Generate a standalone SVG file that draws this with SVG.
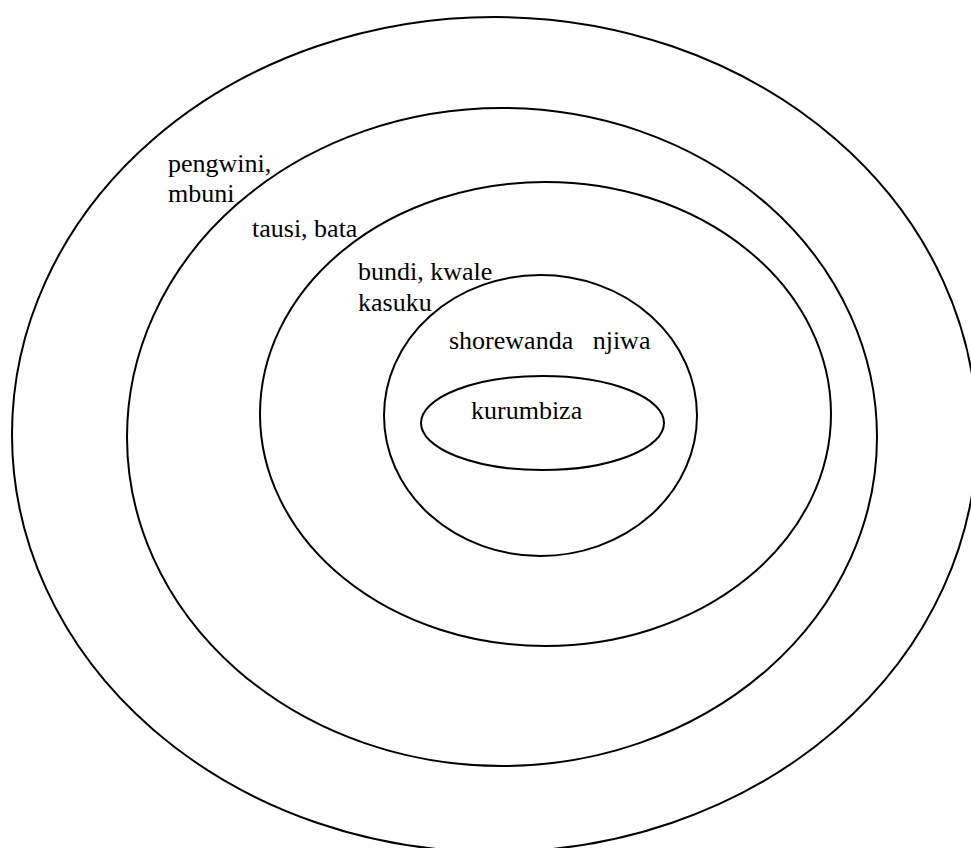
<svg xmlns="http://www.w3.org/2000/svg" width="971" height="848" viewBox="0 0 971 848">
<style>
.ring{fill:none;stroke:#000;stroke-width:2}
.t{font-family:'Liberation Serif','Times New Roman',Times,'DejaVu Serif',serif;font-size:26px;fill:#000}
</style>
<rect width="971" height="848" fill="#fff"/>
<g id="ring1"><ellipse class="ring" cx="494.5" cy="434.5" rx="482.5" ry="417.5"/><text class="t" font-family="Liberation Serif, DejaVu Serif, serif" x="168" y="172">pengwini,</text><text class="t" font-family="Liberation Serif, DejaVu Serif, serif" x="168" y="202">mbuni</text></g>
<g id="ring2"><ellipse class="ring" cx="502" cy="437" rx="375" ry="329"/><text class="t" font-family="Liberation Serif, DejaVu Serif, serif" x="252" y="237">tausi, bata</text></g>
<g id="ring3"><ellipse class="ring" cx="545.5" cy="414" rx="285.5" ry="232"/><text class="t" font-family="Liberation Serif, DejaVu Serif, serif" x="358" y="280">bundi, kwale</text><text class="t" font-family="Liberation Serif, DejaVu Serif, serif" x="358" y="311">kasuku</text></g>
<g id="ring4"><ellipse class="ring" cx="540.5" cy="415.5" rx="156.5" ry="140.5"/><text class="t" font-family="Liberation Serif, DejaVu Serif, serif" x="449" y="349" xml:space="preserve">shorewanda   njiwa</text></g>
<g id="ring5"><ellipse class="ring" cx="542.5" cy="423" rx="121.5" ry="47"/><text class="t" font-family="Liberation Serif, DejaVu Serif, serif" x="471" y="419">kurumbiza</text></g>
<g id="connectors"/>
</svg>
